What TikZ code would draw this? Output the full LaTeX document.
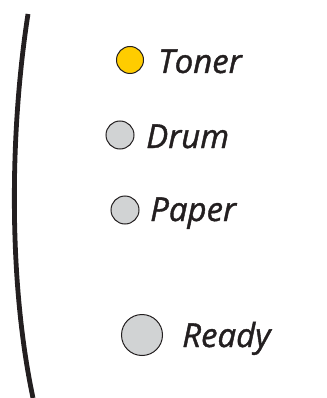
\documentclass[tikz,border=0pt]{standalone}
\usepackage{fontspec}
\setmainfont[ItalicFeatures={FakeBold=1.2}]{Open Sans}
\definecolor{ledyellow}{HTML}{FFCC00}
\definecolor{ledgrey}{HTML}{D1D3D4}
\definecolor{ink}{HTML}{231F20}
\begin{document}
\begin{tikzpicture}[x=1pt,y=-1pt,
  led/.style={circle,draw=ink,line width=1pt,inner sep=0pt},
  lbl/.style={anchor=base west,inner sep=0pt,text=ink,font=\fontsize{33}{33}\selectfont\itshape}]
\useasboundingbox (0,0) rectangle (326,398);
\draw[ink,line width=4.8pt] (28,14) .. controls (10,130) and (8,280) .. (33,398);
\node[led,fill=ledyellow,minimum size=27pt] (toner) at (130,60) {};
\node[lbl] (tonerl) at (158,73) {Toner};
\node[led,fill=ledgrey,minimum size=28pt] (drum) at (120,135) {};
\node[lbl] (druml) at (146,148) {Drum};
\node[led,fill=ledgrey,minimum size=28pt] (paper) at (125,210) {};
\node[lbl] (paperl) at (150,221) {Paper};
\node[led,fill=ledgrey,minimum size=41pt] (ready) at (142,335) {};
\node[lbl] (readyl) at (182,347) {Ready};
\end{tikzpicture}
\end{document}
